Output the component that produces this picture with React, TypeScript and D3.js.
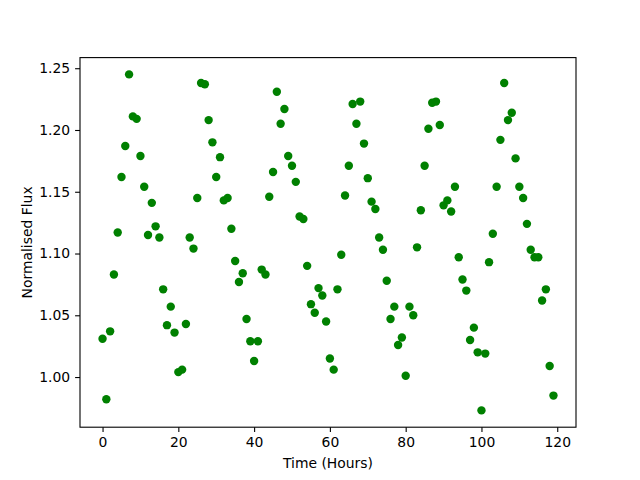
import { useRef, useEffect } from 'react';
import * as d3 from 'd3';

// hourly samples, 0..119
const hours = d3.range(0, 120);
const flux = [
  1.031, 0.982, 1.037, 1.083, 1.117, 1.162, 1.187, 1.245, 1.211, 1.209,
  1.179, 1.154, 1.115, 1.141, 1.122, 1.113, 1.071, 1.042, 1.057, 1.036,
  1.004, 1.006, 1.043, 1.113, 1.104, 1.145, 1.238, 1.237, 1.208, 1.19,
  1.162, 1.178, 1.143, 1.145, 1.12, 1.094, 1.077, 1.084, 1.047, 1.029,
  1.013, 1.029, 1.087, 1.083, 1.146, 1.166, 1.231, 1.205, 1.217, 1.179,
  1.171, 1.158, 1.13, 1.128, 1.09, 1.059, 1.052, 1.072, 1.066, 1.045,
  1.015, 1.006, 1.071, 1.099, 1.147, 1.171, 1.221, 1.205, 1.223, 1.189,
  1.161, 1.142, 1.136, 1.113, 1.103, 1.078, 1.047, 1.057, 1.026, 1.032,
  1.001, 1.057, 1.05, 1.105, 1.135, 1.171, 1.201, 1.222, 1.223, 1.204,
  1.139, 1.143, 1.134, 1.154, 1.097, 1.079, 1.07, 1.03, 1.04, 1.02,
  0.973, 1.019, 1.093, 1.116, 1.154, 1.192, 1.238, 1.208, 1.214, 1.177,
  1.154, 1.145, 1.124, 1.103, 1.097, 1.097, 1.062, 1.071, 1.009, 0.985,
];
const xTicks = [0, 20, 40, 60, 80, 100, 120];
const yTicks = [1.0, 1.05, 1.1, 1.15, 1.2, 1.25];

const FONT = 'DejaVu Sans';
const FS = 13.9;
const GREEN = '#008000';

export default function App() {
  const svgRef = useRef<SVGSVGElement>(null);

  useEffect(() => {
    const svg = svgRef.current;
    if (!svg) return;
    const sel = d3.select(svg);
    sel.selectAll('*').remove();

    const width = 640;
    const height = 480;
    const margin = { top: 57.6, right: 64, bottom: 52.8, left: 80 };
    const innerW = width - margin.left - margin.right;
    const innerH = height - margin.top - margin.bottom;

    sel.attr('width', width).attr('height', height);
    sel.append('rect').attr('width', width).attr('height', height).attr('fill', '#fff');

    const g = sel.append('g').attr('transform', `translate(${margin.left},${margin.top})`);

    // matplotlib-style 5% margins
    const [x0, x1] = d3.extent(hours) as [number, number];
    const xPad = (x1 - x0) * 0.05;
    const [y0, y1] = d3.extent(flux) as [number, number];
    const yPad = (y1 - y0) * 0.05;

    const x = d3.scaleLinear().domain([x0 - xPad, x1 + xPad]).range([0, innerW]);
    const y = d3.scaleLinear().domain([y0 - yPad, y1 + yPad]).range([innerH, 0]);

    // points
    g.selectAll('circle')
      .data(hours)
      .enter()
      .append('circle')
      .attr('cx', (d) => x(d))
      .attr('cy', (d, i) => y(flux[i]))
      .attr('r', 4.2)
      .attr('fill', GREEN);

    // frame
    g.append('rect')
      .attr('width', innerW)
      .attr('height', innerH)
      .attr('fill', 'none')
      .attr('stroke', '#000')
      .attr('stroke-width', 1.1);

    const xAxis = d3
      .axisBottom(x)
      .tickValues(xTicks)
      .tickFormat((d) => `${d}`)
      .tickSize(4.9)
      .tickSizeOuter(0)
      .tickPadding(4.9);
    const xg = g.append('g').attr('transform', `translate(0,${innerH})`).call(xAxis);

    const yAxis = d3
      .axisLeft(y)
      .tickValues(yTicks)
      .tickFormat((d) => (d as number).toFixed(2))
      .tickSize(4.9)
      .tickSizeOuter(0)
      .tickPadding(4.9);
    const yg = g.append('g').call(yAxis);

    [xg, yg].forEach((ax) => {
      ax.select('.domain').remove();
      ax.selectAll('.tick line').attr('stroke', '#000').attr('stroke-width', 1.1);
      ax.selectAll('text')
        .attr('fill', '#000')
        .attr('font-family', FONT)
        .attr('font-size', FS);
    });

    // Labels
    g.append('text')
      .attr('x', innerW / 2)
      .attr('y', innerH + 41)
      .attr('text-anchor', 'middle')
      .attr('font-family', FONT)
      .attr('font-size', FS)
      .text('Time (Hours)');

    g.append('text')
      .attr('transform', `translate(${-48.5},${innerH / 2}) rotate(-90)`)
      .attr('text-anchor', 'middle')
      .attr('font-family', FONT)
      .attr('font-size', FS)
      .text('Normalised Flux');
  }, []);

  return <svg ref={svgRef} style={{ position: 'absolute', left: 0, top: 0 }} />;
}
